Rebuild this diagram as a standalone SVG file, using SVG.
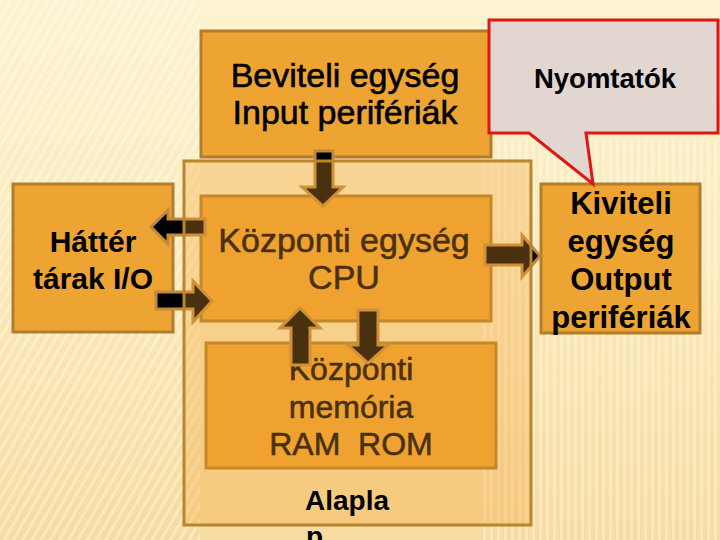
<svg xmlns="http://www.w3.org/2000/svg" width="720" height="540" viewBox="0 0 720 540">
<defs>
  <linearGradient id="bg" x1="0" y1="0" x2="0" y2="1">
    <stop offset="0" stop-color="#fdf3d0"/>
    <stop offset="0.5" stop-color="#fbe9b9"/>
    <stop offset="1" stop-color="#f6dca0"/>
  </linearGradient>
  <pattern id="diag" width="8" height="8" patternUnits="userSpaceOnUse" patternTransform="rotate(30)">
    <rect width="3" height="8" fill="#ffffff" opacity="0.35"/>
  </pattern>
  <pattern id="vert" width="7" height="10" patternUnits="userSpaceOnUse">
    <rect width="3" height="10" fill="#ffffff" opacity="0.3"/>
  </pattern>
  <style>
    .box{fill:#eea432;stroke:#b27d2c;stroke-width:3}
    .arrow{fill:#000000;stroke:#c08a3a;stroke-width:3;stroke-linejoin:miter}
    .t{font-family:"Liberation Sans",Arial,sans-serif;fill:#000000;text-anchor:middle}
    .r{stroke:#000000;stroke-width:0.6}
    .b{font-weight:bold}
  </style>
</defs>
<rect width="720" height="540" fill="url(#bg)"/>
<rect x="0" y="0" width="200" height="540" fill="url(#diag)"/>
<rect x="480" y="140" width="240" height="400" fill="url(#vert)"/>

<g id="beviteli">
  <rect class="box" x="201" y="31" width="290" height="126"/>
  <text class="t r" x="345" y="87" font-size="34">Beviteli egység</text>
  <text class="t r" x="345" y="124" font-size="34">Input perifériák</text>
</g>
<g id="hatter">
  <rect class="box" x="13" y="184" width="160" height="148"/>
  <text class="t b" x="93" y="252" font-size="30">Háttér</text>
  <text class="t b" x="93" y="289" font-size="30">tárak I/O</text>
</g>
<g id="kiviteli">
  <rect class="box" x="541" y="184" width="159" height="149"/>
  <text class="t b" x="621" y="214" font-size="31">Kiviteli</text>
  <text class="t b" x="621" y="252" font-size="31">egység</text>
  <text class="t b" x="621" y="290" font-size="31">Output</text>
  <text class="t b" x="621" y="328" font-size="31">perifériák</text>
</g>
<g id="cpu">
  <rect class="box" x="201" y="196" width="290" height="125"/>
  <text class="t r" x="344" y="252" font-size="34">Központi egység</text>
  <text class="t r" x="344" y="289" font-size="34">CPU</text>
</g>
<g id="memoria">
  <rect class="box" x="206" y="343" width="290" height="125"/>
  <text class="t r" x="351" y="380" font-size="32">Központi</text>
  <text class="t r" x="351" y="418" font-size="32">memória</text>
  <text class="t r" x="351" y="455" font-size="32" xml:space="preserve">RAM  ROM</text>
</g>

<g id="connectors">
  <polygon class="arrow" points="315,151 333,151 333,187 343,187 323,206 302,187 315,187"/>
  <polygon class="arrow" points="205,219 168,219 168,210 151,227 168,244 168,235 205,235"/>
  <polygon class="arrow" points="156,292 193,292 193,281 212,301 193,322 193,309 156,309"/>
  <polygon class="arrow" points="485,245 522,245 522,235 540,256 522,277 522,265 485,265"/>
  <polygon class="arrow" points="291,365 291,328 280,328 300,308 320,328 310,328 310,365"/>
  <polygon class="arrow" points="358,310 378,310 378,345 388,345 368,363 348,345 358,345"/>
</g>

<g id="alaplap">
  <rect x="184" y="161" width="347" height="364" fill="#f3a030" fill-opacity="0.3" stroke="#b8862e" stroke-width="3"/>
  <text class="b" x="305" y="510" font-size="28" font-family="Liberation Sans, Arial, sans-serif">Alapla</text>
  <text class="b" x="306" y="546" font-size="28" font-family="Liberation Sans, Arial, sans-serif">p</text>
</g>

<g id="nyomtatok">
  <path d="M489,20 L718,20 L718,133 L586,133 L593,184 L529,133 L489,133 Z" fill="#e2d6d0" stroke="#e01616" stroke-width="3" stroke-linejoin="miter"/>
  <text class="t b" x="605" y="88" font-size="27.5">Nyomtatók</text>
</g>
</svg>
